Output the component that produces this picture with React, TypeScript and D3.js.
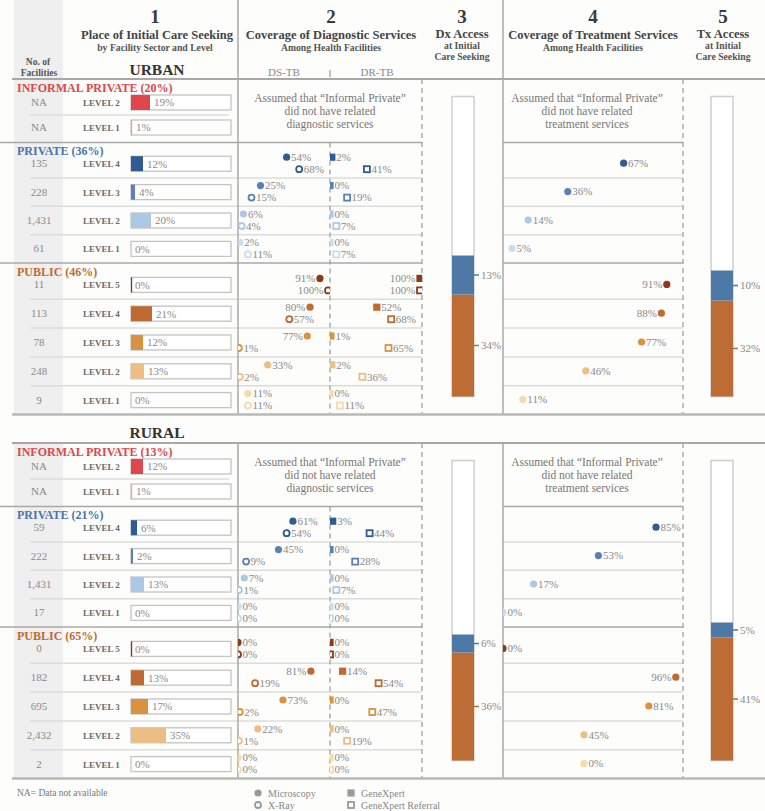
import React from "react";
import * as d3 from "d3";

const FONT = "'Liberation Serif','Times New Roman',serif";

// ---------- DATA ----------
const sectorNames = ["INFORMAL PRIVATE", "PRIVATE", "PUBLIC"];
const levelNames = [
  ["LEVEL 2", "LEVEL 1"],
  ["LEVEL 4", "LEVEL 3", "LEVEL 2", "LEVEL 1"],
  ["LEVEL 5", "LEVEL 4", "LEVEL 3", "LEVEL 2", "LEVEL 1"],
];

const urbanShare = [20, 36, 46];
const urbanFacilities = ["NA", "NA", "135", "228", "1,431", "61", "11", "113", "78", "248", "9"];
const urbanCare = [19, 1, 12, 4, 20, 0, 0, 21, 12, 13, 0];
const urbanMicroscopy = [54, 25, 6, 2, 91, 80, 77, 33, 11];
const urbanXray = [68, 15, 4, 11, 100, 57, 1, 2, 11];
const urbanGeneXpert = [2, 0, 0, 0, 100, 52, 1, 2, 0];
const urbanGxReferral = [41, 19, 7, 7, 100, 68, 65, 36, 11];
const urbanTreatment = [67, 36, 14, 5, 91, 88, 77, 46, 11];
const urbanDxAccess = [13, 34]; // private, public
const urbanTxAccess = [10, 32];

const ruralShare = [13, 21, 65];
const ruralFacilities = ["NA", "NA", "59", "222", "1,431", "17", "0", "182", "695", "2,432", "2"];
const ruralCare = [12, 1, 6, 2, 13, 0, 0, 13, 17, 35, 0];
const ruralMicroscopy = [61, 45, 7, 0, 0, 81, 73, 22, 0];
const ruralMicroscopyPlotted = [61, 45, 7, 0, 0, 81, 50, 22, 0];
const ruralXray = [54, 9, 1, 0, 0, 19, 2, 1, 0];
const ruralGeneXpert = [3, 0, 0, 0, 0, 14, 0, 0, 0];
const ruralGxReferral = [44, 28, 7, 0, 0, 54, 47, 19, 0];
const ruralTreatment = [85, 53, 17, 0, 0, 96, 81, 45, 0];
const ruralTreatmentPlotted = [85, 53, 17, 0, 0, 96, 81, 45, 45];
const ruralDxAccess = [6, 36];
const ruralTxAccess = [5, 41];

// ---------- STYLE ----------
const sectorColors = ["#e0474c", "#4a74ad", "#c06a32"];
const levelColors = [
  ["#e0474c", "#eea0a2"],
  ["#2f5c92", "#5b80b7", "#abc9e7", "#c8ddf1"],
  ["#8c3a1a", "#be6a32", "#d9933e", "#ebbe84", "#f3dcab"],
];
const accessColors = { priv: "#4e79a7", pub: "#bc6c34" };
const layout = [
  { off: 11, h: 25, height: 63.5 },
  { off: 7, h: 28.4, height: 120.5 },
  { off: 7.5, h: 28.8, height: 151.5 },
];

const xCare = d3.scaleLinear().domain([0, 100]).range([131, 231]);
const xDS = d3.scaleLinear().domain([0, 100]).range([238, 328]);
const xDR = d3.scaleLinear().domain([0, 100]).range([330, 420]);
const xTx = d3.scaleLinear().domain([0, 100]).range([503, 683]);

const TXT = "#8a8a8a";
const LINE = "#a8a8a8";
const LIGHT = "#dcdcdc";

function labelWidth(s: string, fs: number) {
  let w = 0;
  for (const ch of s) w += ch === "%" ? 0.833 : 0.5;
  return w * fs;
}

function Marker({ shape, filled, x, y, color }: any) {
  if (shape === "circle") {
    return filled ? (
      <circle cx={x} cy={y} r={3.6} fill={color} />
    ) : (
      <circle cx={x} cy={y} r={3} fill="#fff" stroke={color} strokeWidth={1.8} />
    );
  }
  return filled ? (
    <rect x={x - 3.6} y={y - 3.6} width={7.2} height={7.2} fill={color} />
  ) : (
    <rect x={x - 3} y={y - 3} width={6} height={6} fill="#fff" stroke={color} strokeWidth={1.8} />
  );
}

function PointLabel({ value, pos, scale, limit, y, shape, filled, color, clip }: any) {
  const x = scale(pos);
  const s = `${value}%`;
  const w = labelWidth(s, 11);
  const right = x + 4.5 + w <= limit;
  return (
    <g>
      <g clipPath={`url(#${clip})`}>
        <Marker shape={shape} filled={filled} x={x} y={y} color={color} />
      </g>
      <text
        x={right ? x + 4.5 : x - 4.5}
        y={y + 3.8}
        fontSize={11}
        fill={TXT}
        textAnchor={right ? "start" : "end"}
      >
        {s}
      </text>
    </g>
  );
}

function AccessBar({ x, top, bottom, priv, pub }: any) {
  const y = d3.scaleLinear().domain([0, 100]).range([bottom, top]);
  const segs = [
    { v0: 0, v1: pub, c: accessColors.pub, v: pub },
    { v0: pub, v1: pub + priv, c: accessColors.priv, v: priv },
  ];
  return (
    <g>
      <rect x={x} y={top} width={22} height={bottom - top} fill="#fff" stroke="#cfcfcf" strokeWidth={1.5} />
      {segs.map((s, i) => {
        const ym = y((s.v0 + s.v1) / 2);
        return (
          <g key={i}>
            <rect x={x} y={y(s.v1)} width={22} height={y(s.v0) - y(s.v1)} fill={s.c} />
            <line x1={x + 22} x2={x + 27} y1={ym} y2={ym} stroke={s.c} strokeWidth={1.5} />
            <text x={x + 29} y={ym + 3.8} fontSize={11} fill={TXT}>
              {s.v}%
            </text>
          </g>
        );
      })}
    </g>
  );
}

function Section(p: any) {
  const { top, grayTop, vTop, dashTop, share, facilities, care, micro, microPos, xray, gx, gxRef, tx, txPos, dx, txa } = p;
  let y = top;
  const groups = layout.map((L, g) => {
    const t = y;
    y += L.height;
    return { t, b: y, L, g };
  });
  const bottom = y;
  const rows: any[] = [];
  let k = 0;
  groups.forEach((G) => {
    levelNames[G.g].forEach((lv, i) => {
      rows.push({ k, g: G.g, i, c: G.t + G.L.off + G.L.h * (i + 0.5), sepY: G.t + G.L.off + G.L.h * (i + 1), last: i === levelNames[G.g].length - 1, lv });
      k++;
    });
  });
  const mid0 = (groups[0].t + groups[0].b) / 2;

  return (
    <g>
      <rect x={14} y={grayTop} width={49} height={bottom - grayTop} fill="#efefef" />
      {/* row separators */}
      {rows.filter((r) => !r.last).map((r) => (
        <g key={"s" + r.k}>
          <line x1={30} x2={r.g === 0 ? 229 : 238} y1={r.sepY} y2={r.sepY} stroke={LIGHT} strokeWidth={1.5} />
          {r.g > 0 && <line x1={238} x2={422} y1={r.sepY} y2={r.sepY} stroke={LIGHT} strokeWidth={1.5} />}
          {r.g > 0 && <line x1={503} x2={683} y1={r.sepY} y2={r.sepY} stroke={LIGHT} strokeWidth={1.5} />}
        </g>
      ))}
      {/* group separators */}
      {groups.slice(1).map((G) => (
        <g key={"g" + G.g}>
          <line x1={0} x2={422} y1={G.t} y2={G.t} stroke={LINE} strokeWidth={1.5} />
          <line x1={503} x2={683} y1={G.t} y2={G.t} stroke={LINE} strokeWidth={1.5} />
        </g>
      ))}
      {/* verticals */}
      <line x1={238} x2={238} y1={vTop} y2={bottom} stroke={LINE} strokeWidth={1.5} />
      <line x1={503} x2={503} y1={vTop} y2={bottom} stroke={LINE} strokeWidth={1.5} />
      <line x1={330} x2={330} y1={groups[1].t} y2={bottom} stroke="#999" strokeWidth={1.2} strokeDasharray="5,4" />
      <line x1={422} x2={422} y1={dashTop} y2={bottom} stroke="#999" strokeWidth={1.2} strokeDasharray="5,4" />
      <line x1={683} x2={683} y1={dashTop} y2={bottom} stroke="#999" strokeWidth={1.2} strokeDasharray="5,4" />
      {/* header and bottom lines */}
      <line x1={12} x2={765} y1={top} y2={top} stroke={LINE} strokeWidth={2} />
      <line x1={12} x2={765} y1={bottom} y2={bottom} stroke="#b8b8b8" strokeWidth={2.5} />
      {/* group labels */}
      {groups.map((G) => (
        <text key={"l" + G.g} x={17} y={G.t + 12.5} fontSize={12} fontWeight="bold" fill={sectorColors[G.g]}>
          {sectorNames[G.g]} ({share[G.g]}%)
        </text>
      ))}
      {/* rows */}
      {rows.map((r) => {
        const col = levelColors[r.g][r.i];
        const v = care[r.k];
        const di = r.k - 2;
        return (
          <g key={"r" + r.k}>
            <text x={39} y={r.c + 3.5} fontSize={11} fill={TXT} textAnchor="middle">
              {facilities[r.k]}
            </text>
            <text x={83} y={r.c + 3.5} fontSize={9} fontWeight="bold" fill="#6a6a6a">
              {r.lv}
            </text>
            <rect x={xCare(0)} y={r.c - 7.5} width={xCare(100) - xCare(0)} height={15} fill="#fff" stroke="#c4c4c4" strokeWidth={1.3} />
            <rect x={xCare(0)} y={r.c - 7.5} width={Math.max(xCare(v) - xCare(0), 1.2)} height={15} fill={col} />
            <text x={xCare(v) + 4} y={r.c + 3.8} fontSize={11} fill={TXT}>
              {v}%
            </text>
            {r.g > 0 && (
              <g>
                <PointLabel value={micro[di]} pos={microPos[di]} scale={xDS} limit={330} y={r.c - 6.5} shape="circle" filled color={col} clip="cDS" />
                <PointLabel value={xray[di]} pos={xray[di]} scale={xDS} limit={330} y={r.c + 5.5} shape="circle" filled={false} color={col} clip="cDS" />
                <PointLabel value={gx[di]} pos={gx[di]} scale={xDR} limit={422} y={r.c - 6.5} shape="square" filled color={col} clip="cDR" />
                <PointLabel value={gxRef[di]} pos={gxRef[di]} scale={xDR} limit={422} y={r.c + 5.5} shape="square" filled={false} color={col} clip="cDR" />
                <PointLabel value={tx[di]} pos={txPos[di]} scale={xTx} limit={683} y={r.c - 0.5} shape="circle" filled color={col} clip="cTx" />
              </g>
            )}
          </g>
        );
      })}
      {/* notes */}
      {[
        { x: 330, w: "diagnostic services" },
        { x: 587, w: "treatment services" },
      ].map((n, i) => (
        <text key={"n" + i} x={n.x} fontSize={11.5} fill="#777" textAnchor="middle">
          <tspan x={n.x} y={mid0 - 9}>Assumed that “Informal Private”</tspan>
          <tspan x={n.x} y={mid0 + 4}>did not have related</tspan>
          <tspan x={n.x} y={mid0 + 17}>{n.w}</tspan>
        </text>
      ))}
      <AccessBar x={452} top={top + 17.5} bottom={bottom - 18} priv={dx[0]} pub={dx[1]} />
      <AccessBar x={711} top={top + 17.5} bottom={bottom - 18} priv={txa[0]} pub={txa[1]} />
    </g>
  );
}

function Header() {
  const H1 = { fontSize: 19, fontWeight: "bold", fill: "#3a3a3a" } as any;
  const H2 = { fontSize: 12.5, fontWeight: "bold", fill: "#444" } as any;
  const H3 = { fontSize: 9.7, fontWeight: "bold", fill: "#555" } as any;
  return (
    <g textAnchor="middle">
      <rect x={14} y={0} width={49} height={79} fill="#efefef" />
      <line x1={238} x2={238} y1={0} y2={79} stroke={LINE} strokeWidth={1.5} />
      <line x1={503} x2={503} y1={0} y2={79} stroke={LINE} strokeWidth={1.5} />
      <text x={38} y={65} fontSize={9.5} fontWeight="bold" fill="#555">No. of</text>
      <text x={39} y={75.5} fontSize={9.5} fontWeight="bold" fill="#555">Facilities</text>

      <text x={155} y={23} {...H1}>1</text>
      <text x={157} y={39} {...H2}>Place of Initial Care Seeking</text>
      <text x={155} y={50.5} {...H3}>by Facility Sector and Level</text>
      <text x={157} y={74.5} fontSize={15.5} fontWeight="bold" fill="#333">URBAN</text>

      <text x={331} y={23} {...H1}>2</text>
      <text x={331} y={39} {...H2}>Coverage of Diagnostic Services</text>
      <text x={331} y={51} {...H3}>Among Health Facilities</text>
      <text x={284} y={75.5} fontSize={11} fill={TXT}>DS-TB</text>
      <text x={377} y={75.5} fontSize={11} fill={TXT}>DR-TB</text>
      <line x1={330} x2={330} y1={70} y2={77} stroke="#999" strokeWidth={1.2} />

      <text x={462} y={23} {...H1}>3</text>
      <text x={462} y={37.5} {...H2}>Dx Access</text>
      <text x={462} y={48.5} {...H3}>at Initial</text>
      <text x={462} y={59.5} {...H3}>Care Seeking</text>

      <text x={593} y={23} {...H1}>4</text>
      <text x={593} y={39} {...H2}>Coverage of Treatment Services</text>
      <text x={593} y={51} {...H3}>Among Health Facilities</text>

      <text x={723} y={23} {...H1}>5</text>
      <text x={723} y={37.5} {...H2}>Tx Access</text>
      <text x={723} y={48.5} {...H3}>at Initial</text>
      <text x={723} y={59.5} {...H3}>Care Seeking</text>
    </g>
  );
}

function Legend() {
  const c = "#9a9a9a";
  return (
    <g>
      <text x={17} y={796} fontSize={9.5} fill="#777">NA= Data not available</text>
      <Marker shape="circle" filled x={258} y={793} color={c} />
      <text x={268} y={796.5} fontSize={10} fill="#888">Microscopy</text>
      <Marker shape="circle" filled={false} x={258} y={805} color={c} />
      <text x={268} y={808.5} fontSize={10} fill="#888">X-Ray</text>
      <Marker shape="square" filled x={351} y={793} color={c} />
      <text x={361} y={796.5} fontSize={10} fill="#888">GeneXpert</text>
      <Marker shape="square" filled={false} x={351} y={805} color={c} />
      <text x={361} y={808.5} fontSize={10} fill="#888">GeneXpert Referral</text>
    </g>
  );
}

export default function App() {
  return (
    <svg width={765} height={811} fontFamily={FONT} style={{ position: "absolute", left: 0, top: 0 }}>
      <defs>
        <clipPath id="cDS"><rect x={238} y={0} width={92} height={811} /></clipPath>
        <clipPath id="cDR"><rect x={330} y={0} width={92} height={811} /></clipPath>
        <clipPath id="cTx"><rect x={503} y={0} width={180} height={811} /></clipPath>
      </defs>
      <rect width={765} height={811} fill="#fdfdfb" />
      <Header />
      <Section
        top={79} grayTop={79} vTop={79} dashTop={79}
        share={urbanShare} facilities={urbanFacilities} care={urbanCare}
        micro={urbanMicroscopy} microPos={urbanMicroscopy} xray={urbanXray}
        gx={urbanGeneXpert} gxRef={urbanGxReferral} tx={urbanTreatment} txPos={urbanTreatment}
        dx={urbanDxAccess} txa={urbanTxAccess}
      />
      <text x={157} y={437.5} fontSize={15.5} fontWeight="bold" fill="#333" textAnchor="middle">RURAL</text>
      <Section
        top={443} grayTop={443} vTop={443} dashTop={443}
        share={ruralShare} facilities={ruralFacilities} care={ruralCare}
        micro={ruralMicroscopy} microPos={ruralMicroscopyPlotted} xray={ruralXray}
        gx={ruralGeneXpert} gxRef={ruralGxReferral} tx={ruralTreatment} txPos={ruralTreatmentPlotted}
        dx={ruralDxAccess} txa={ruralTxAccess}
      />
      <Legend />
    </svg>
  );
}
